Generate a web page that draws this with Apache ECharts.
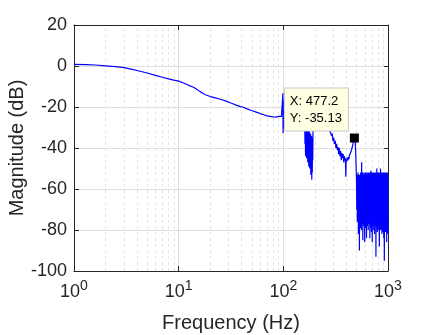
<!DOCTYPE html>
<html>
<head>
<meta charset="utf-8">
<script src="https://cdn.jsdelivr.net/npm/echarts@6/dist/echarts.min.js"></script>
<style>
  html, body { margin: 0; padding: 0; background: #fff; }
  #chart { width: 429px; height: 335px; }
</style>
</head>
<body>
<div id="chart"></div>
<script>
// Bode magnitude, [Hz, dB]
const smoothBand = [
  [1, 0.8], [1.3, 0.7], [1.6, 0.5], [2, 0.1], [2.5, -0.3], [3, -0.8], [3.5, -1.5], [4, -2.2],
  [5, -3.4], [6, -4.6], [7, -5.5], [8, -6.3], [9, -6.9], [10, -7.4], [11, -8.2], [12, -9.0],
  [13, -9.8], [14, -10.5], [15, -11.5], [16, -12.5], [17, -13.3], [18, -14.0], [20, -14.9],
  [22, -15.4], [25, -16.2], [28, -17.0], [32, -18.2], [36, -19.2], [39, -19.8], [40, -20.6],
  [41, -20.0], [45, -20.9], [49, -21.6], [50, -22.3], [51, -21.8], [56, -22.6], [60, -23.2],
  [65, -23.8], [70, -24.3], [75, -24.6], [80, -24.8], [85, -24.9], [90, -24.6], [94, -24.3],
  [96, -24.6], [98, -25.0]
];
const spikeBand = [
  [99.0, -13.3], [99.4, -32.8], [99.8, -16.5], [100.3, -30.5], [100.8, -22], [101.5, -26],
  [103, -24.5], [110, -25.5], [120, -26.5], [130, -27.5], [140, -27], [150, -28.5], [156, -29]
];
const notchBand = [
  [158, -31], [160, -27], [161, -38], [162, -30], [163, -44], [164, -31], [165, -41], [166, -29],
  [167, -45], [168, -32], [169, -42], [170, -30], [171, -47], [172, -33], [173, -44], [174, -31],
  [175, -49], [176, -34], [177, -46], [178, -32], [179, -50], [180, -35], [181, -48], [182, -33],
  [183, -53], [184, -36], [185, -51], [186, -34], [187, -55.5], [188, -38], [189, -52], [190, -35],
  [191, -46], [192, -32], [194, -29]
];
const resonanceBand = [
  [200, -28], [215, -27], [230, -28.5], [245, -29.5], [260, -30.5], [275, -31.5],
  [283, -32.5], [288, -34], [293, -33], [298, -36.5], [303, -35], [308, -38], [313, -36.5],
  [318, -40], [323, -38], [328, -41], [333, -39.5], [338, -43], [343, -40], [348, -44],
  [353, -41.5], [358, -46], [363, -42.5], [368, -45], [373, -43], [378, -47], [383, -44],
  [388, -46], [392, -45], [395, -54], [398, -45.5], [403, -46.5], [408, -44.5], [413, -46],
  [418, -44.5], [423, -45.5], [428, -43.5], [433, -44], [438, -42.5], [443, -42], [448, -41],
  [453, -40], [458, -39], [463, -38], [468, -36.8], [473, -35.8], [477.2, -35.13], [482, -35.5],
  [487, -37], [492, -43], [497, -51]
];
const noiseBand = [
  [500, -56], [503, -70], [506, -53], [509, -76], [512, -54], [515, -73], [518, -52], [521, -82], [524, -54], [527, -78],
  [530, -53], [533, -90], [536, -55], [539, -74], [542, -53], [545, -79], [548, -52], [551, -75], [554, -54], [557, -80],
  [560, -47], [563, -72], [566, -53], [569, -77], [572, -52], [575, -85], [578, -54], [581, -74], [584, -53], [587, -78],
  [590, -52], [593, -73], [596, -54], [599, -86], [602, -53], [605, -76], [608, -52], [611, -79], [614, -54], [617, -72],
  [620, -53], [623, -84], [626, -52], [629, -75], [632, -54], [635, -78], [638, -53], [641, -74], [644, -52], [647, -80],
  [650, -54], [653, -73], [656, -52], [659, -77], [662, -53], [665, -75], [668, -52], [671, -84], [674, -54], [677, -76],
  [680, -53], [683, -79], [686, -51], [689, -73], [692, -54], [695, -81], [698, -52], [701, -75], [704, -53], [707, -86],
  [710, -52], [713, -74], [716, -54], [719, -78], [722, -53], [725, -72], [728, -52], [731, -80], [734, -54], [737, -76],
  [740, -53], [743, -82], [746, -52], [749, -74], [752, -54], [755, -78], [758, -53], [761, -75], [764, -52], [767, -93],
  [770, -54], [773, -77], [776, -52], [779, -79], [782, -50], [785, -74], [788, -53], [791, -81], [794, -52], [797, -76],
  [800, -54], [803, -78], [806, -53], [809, -73], [812, -52], [815, -80], [818, -54], [821, -75], [824, -53], [827, -88],
  [830, -52], [833, -76], [836, -54], [839, -78], [842, -52], [845, -74], [848, -50], [851, -80], [854, -53], [857, -75],
  [860, -52], [863, -79], [866, -54], [869, -73], [872, -53], [875, -82], [878, -52], [881, -76], [884, -54], [887, -78],
  [890, -53], [893, -74], [896, -52], [899, -81], [902, -54], [905, -75], [908, -53], [911, -84], [914, -52], [917, -77],
  [920, -54], [923, -95], [926, -53], [929, -76], [932, -52], [935, -79], [938, -54], [941, -74], [944, -53], [947, -81],
  [950, -52], [953, -75], [956, -54], [959, -78], [962, -53], [965, -73], [968, -52], [971, -86], [974, -54], [977, -76],
  [980, -53], [983, -80], [986, -52], [989, -74], [992, -54], [995, -79], [998, -53], [1000, -82]
];

const minorGrid = [2, 3, 4, 5, 6, 7, 8, 9, 20, 30, 40, 50, 60, 70, 80, 90, 200, 300, 400, 500, 600, 700, 800, 900];
const tipX = 477.2;
const tipY = -35.13;

const response = smoothBand.concat(spikeBand, notchBand, resonanceBand, noiseBand);

const font = 'Liberation Sans, Arial, Helvetica, sans-serif';
const ink = '#262626';

const chart = echarts.init(document.getElementById('chart'));

const option = {
  animation: false,
  textStyle: { fontFamily: font },
  grid: { left: 74, right: 41, top: 25, bottom: 64, containLabel: false, outerBoundsMode: 'none' },
  xAxis: [
    {
      type: 'log', logBase: 10, min: 1, max: 1000,
      name: 'Frequency (Hz)', nameLocation: 'middle', nameGap: 42, nameMoveOverlap: false,
      nameTextStyle: { fontSize: 20, color: ink, fontFamily: font },
      axisLine: { onZero: false, lineStyle: { color: ink } },
      axisTick: { inside: true, length: 5, lineStyle: { color: ink } },
      axisLabel: {
        margin: 8, color: ink,
        formatter: v => '{b|10}{s|' + Math.round(Math.log10(v)) + '}',
        rich: {
          b: { fontSize: 18, color: ink, fontFamily: font },
          s: { fontSize: 14, color: ink, fontFamily: font, padding: [0, 0, 13, 0] }
        }
      },
      splitLine: { lineStyle: { color: '#dfdfdf' } }
    },
    {
      type: 'log', logBase: 10, min: 1, max: 1000, position: 'top',
      axisLine: { onZero: false, lineStyle: { color: ink } },
      axisTick: { inside: true, length: 5, lineStyle: { color: ink } },
      axisLabel: { show: false },
      splitLine: { show: false }
    }
  ],
  yAxis: [
    {
      type: 'value', min: -100, max: 20, interval: 20,
      name: 'Magnitude (dB)', nameLocation: 'middle', nameGap: 47, nameMoveOverlap: false,
      nameTextStyle: { fontSize: 20, color: ink, fontFamily: font },
      axisLine: { show: true, onZero: false, lineStyle: { color: ink } },
      axisTick: { show: true, inside: true, length: 5, lineStyle: { color: ink } },
      axisLabel: { fontSize: 18, color: ink, margin: 7 },
      splitLine: { lineStyle: { color: '#dfdfdf' } }
    },
    {
      type: 'value', min: -100, max: 20, interval: 20, position: 'right',
      axisLine: { show: true, onZero: false, lineStyle: { color: ink } },
      axisTick: { show: true, inside: true, length: 5, lineStyle: { color: ink } },
      axisLabel: { show: false },
      splitLine: { show: false }
    }
  ],
  series: [
    {
      // minor decade grid, kept under the trace
      type: 'line', data: [], z: 1, silent: true,
      markLine: {
        z: 1, symbol: 'none', silent: true, animation: false,
        label: { show: false },
        lineStyle: { color: '#e4e4e4', type: [3, 3], width: 1 },
        data: minorGrid.map(v => ({ xAxis: v }))
      }
    },
    {
      type: 'line', data: response, z: 3,
      showSymbol: false, sampling: false,
      lineStyle: { color: '#0000ff', width: 1.2 },
      markPoint: {
        symbol: 'rect', symbolSize: 9, silent: true,
        itemStyle: { color: '#000' },
        data: [{ coord: [tipX, tipY] }],
        label: {
          show: true, position: [-65, -45],
          formatter: 'X: ' + tipX + '\nY: ' + tipY,
          color: '#000', fontSize: 13, lineHeight: 17, fontFamily: font,
          backgroundColor: '#ffffe1', borderColor: '#c8c8c8', borderWidth: 1,
          padding: [4, 6, 4, 5], align: 'left', verticalAlign: 'top'
        }
      }
    }
  ]
};

chart.setOption(option);
</script>
</body>
</html>
